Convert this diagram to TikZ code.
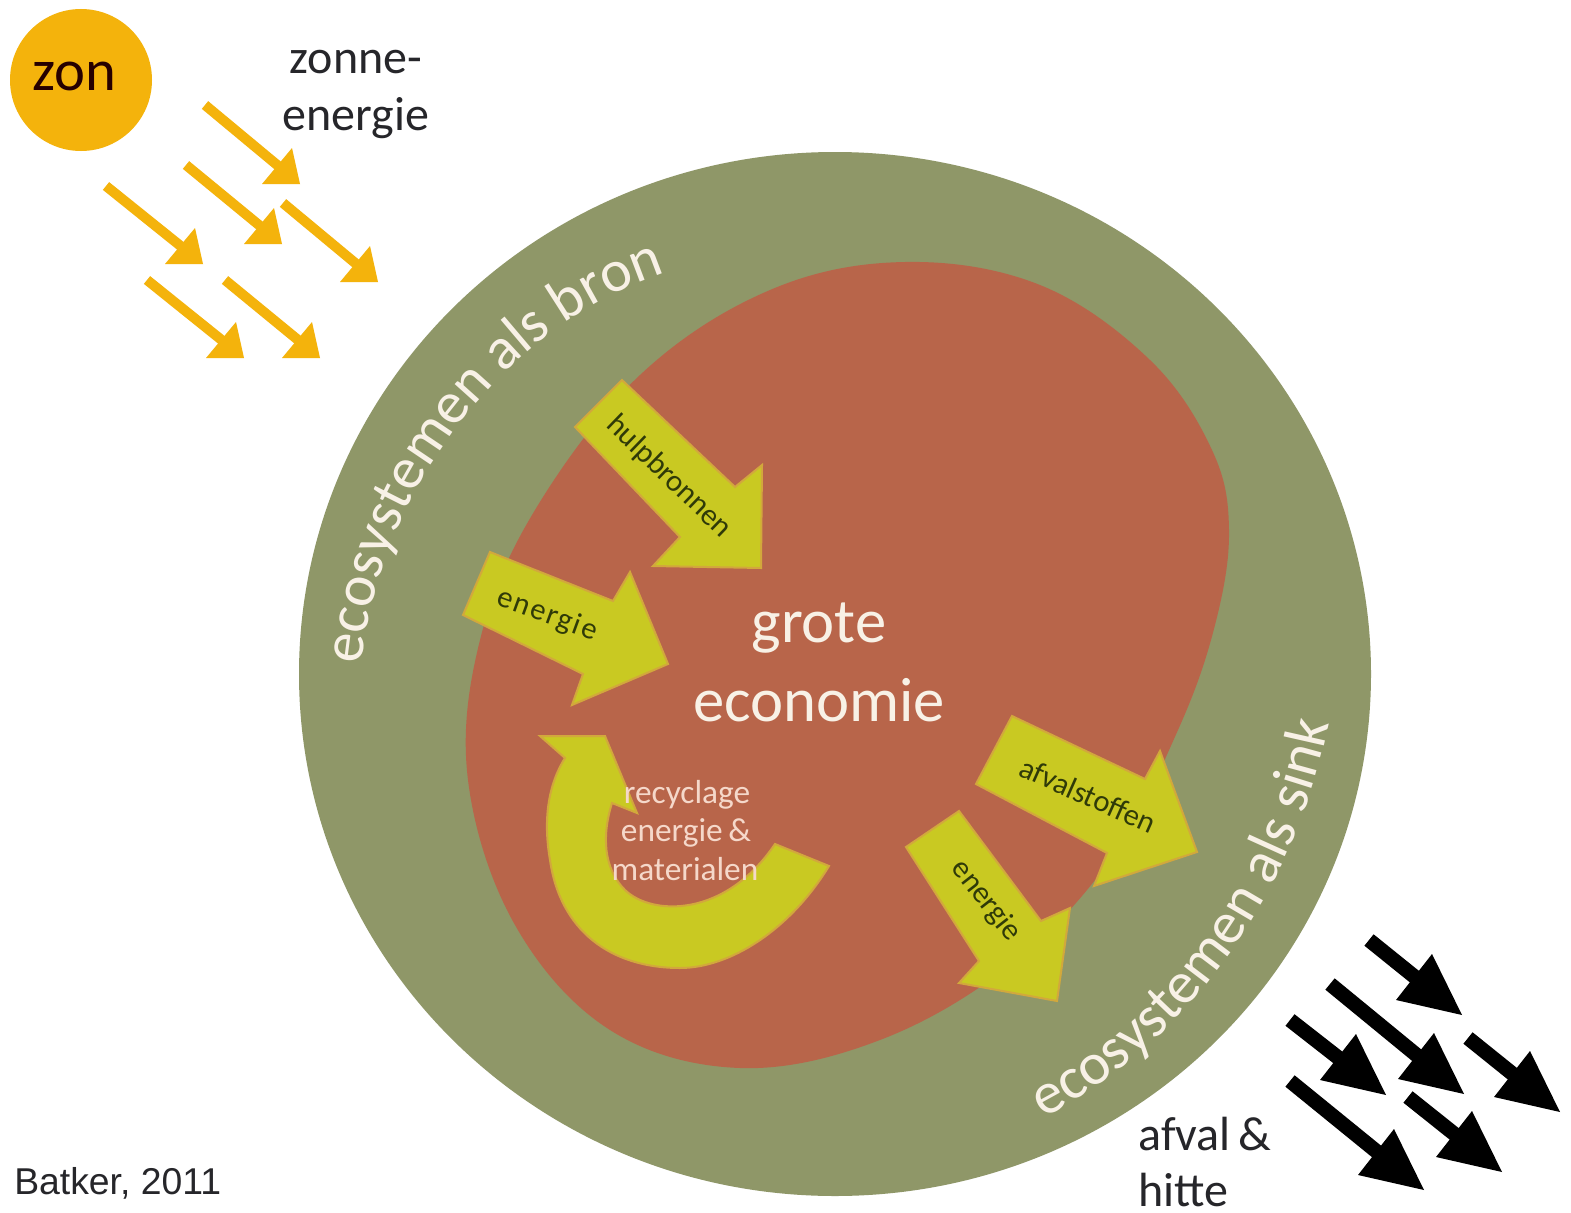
\documentclass[tikz,border=0pt]{standalone}
\usepackage{fontspec}
\setmainfont{Carlito}
\newfontfamily\refont{Liberation Sans}
\usetikzlibrary{decorations.text}
\definecolor{olivering}{HTML}{8F9768}
\definecolor{redblob}{HTML}{B8654A}
\definecolor{limearrow}{HTML}{C9C922}
\definecolor{limeedge}{HTML}{D2A83C}
\definecolor{sunfill}{HTML}{F4B30C}
\definecolor{palewhite}{HTML}{F8F1E6}
\definecolor{pinktext}{HTML}{F5D8CA}
\definecolor{darktext}{HTML}{26262A}
\definecolor{labeltext}{HTML}{2F3A08}
\tikzset{
  x=0.75pt,y=-0.75pt,
  sunray/.style={draw=sunfill,line width=7.5pt,shorten >=14pt},
  heat/.style={draw=black,line width=11pt,shorten >=22pt},
  limeshape/.style={fill=limearrow,draw=limeedge,line width=1.5pt,line join=miter},
  smalllabel/.style={font=\fontsize{23}{25}\selectfont,text=labeltext,inner sep=0pt},
  pinklabel/.style={font=\fontsize{25}{27}\selectfont,text=pinktext,inner sep=0pt},
  biglabel/.style={font=\fontsize{47}{50}\selectfont,text=palewhite,inner sep=0pt},
  blacklabel/.style={font=\fontsize{36}{38}\selectfont,text=darktext,inner sep=0pt},
}
\newcommand{\arcfont}{\fontsize{44.5}{46}\selectfont\color{palewhite}}
\begin{document}
\begin{tikzpicture}
\useasboundingbox (0,0) rectangle (1571,1213);
\fill[white] (0,0) rectangle (1571,1213);

% rings
\fill[olivering] (835,674) ellipse [x radius=536,y radius=522];
\fill[redblob] plot[smooth cycle,tension=0.62] coordinates {
  (905,262) (1040,285) (1150,360) (1212,450) (1229,530) (1215,625) (1178,730)
  (1110,860) (1010,965) (880,1040) (740,1068) (610,1030) (515,925)
  (468,780) (480,640) (535,510) (640,375) (770,290)};

% sun
\node[circle,fill=sunfill,minimum size=106.5pt,inner sep=0pt] (sun) at (81,80) {};
\node[font=\fontsize{44}{46}\selectfont,text=black!85!red,inner sep=0pt] (zonlabel) at (74,76) {zon};
\node[blacklabel] (zonne) at (356,62) {zonne-};
\node[blacklabel] (energiesun) at (356,118) {energie};

% sun rays
\coordinate (s1a) at (205,105); \coordinate (s1b) at (300,184);
\coordinate (s2a) at (186,165); \coordinate (s2b) at (282,244);
\coordinate (s3a) at (106,186); \coordinate (s3b) at (203,264);
\coordinate (s4a) at (283,203); \coordinate (s4b) at (378,282);
\coordinate (s5a) at (147,280); \coordinate (s5b) at (244,358);
\coordinate (s6a) at (225,280); \coordinate (s6b) at (320,358);
\foreach \n in {1,...,6} {
  \draw[sunray] (s\n a) -- (s\n b);
  \fill[sunfill,shift={(s\n b)}] (0,0) -- (-38,0) -- (-8,-36) -- cycle;
}

% lime arrows
\path[limeshape] (575,427) -- (622,380) -- (735,487) -- (762,465) -- (761,568) -- (653,566) -- (680,537) -- cycle;
\path[limeshape] (490,552) -- (463,615) -- (583,674) -- (572,705) -- (668,664) -- (630,572) -- (613,601) -- cycle;
\path[limeshape] (540,736) -- (605,736) -- (637,813) -- (612,803)
   .. controls (602,835) and (603,868) .. (625,890)
   .. controls (652,916) and (725,918) .. (775,844)
   -- (829,866)
   .. controls (790,930) and (730,968) .. (680,968)
   .. controls (610,968) and (560,930) .. (550,860)
   .. controls (543,820) and (548,785) .. (565,758) -- cycle;
\path[limeshape] (1012,716) -- (976,784) -- (1107,853) -- (1094,886) -- (1197,852) -- (1160,751) -- (1145,779) -- cycle;
\path[limeshape] (959,811) -- (906,847) -- (979,961) -- (959,983) -- (1057,1001) -- (1070,908) -- (1041,921) -- cycle;

% labels on lime arrows
\node[smalllabel,rotate=-44] (hulp) at (669,477) {hulpbronnen};
\node[smalllabel,rotate=-20] (en1) at (547,615) {\addfontfeatures{LetterSpace=6}energie};
\node[smalllabel,rotate=-24] (afv) at (1088,795) {afvalstoffen};
\node[smalllabel,rotate=-52] (en2) at (986,901) {energie};

% recycle label
\node[pinklabel] (rec1) at (687,795) {recyclage};
\node[pinklabel] (rec2) at (686,833) {energie\,\&};
\node[pinklabel] (rec3) at (685,869) {materialen};

% main label
\node[biglabel] (grote) at (819,628) {grote};
\node[biglabel] (econ) at (819,700) {economie};

% ring text
\path[decorate,decoration={text along path,text align=center,
   text={|\arcfont|ecosystemen als bron}}]
  (361,680) .. controls (370,505) and (500,320) .. (680,268);
\path[decorate,decoration={text along path,text align=center,
   text={|\arcfont|ecosystemen als sink}}]
  (1022,1128) .. controls (1175,1060) and (1300,900) .. (1333,700);

% heat arrows
\coordinate (b1a) at (1369,940); \coordinate (b1b) at (1462,1015);
\coordinate (b2a) at (1330,984); \coordinate (b2b) at (1464,1094);
\coordinate (b3a) at (1290,1020); \coordinate (b3b) at (1386,1095);
\coordinate (b4a) at (1468,1038); \coordinate (b4b) at (1560,1112);
\coordinate (b5a) at (1408,1097); \coordinate (b5b) at (1502,1172);
\coordinate (b6a) at (1290,1081); \coordinate (b6b) at (1424,1190);
\foreach \n in {1,...,6} {
  \draw[heat] (b\n a) -- (b\n b);
  \fill[black,shift={(b\n b)}] (0,0) -- (-30,-61) -- (-66,-15) -- cycle;
}

\node[blacklabel,anchor=west] (afval) at (1138,1134) {afval\,\&};
\node[blacklabel,anchor=west] (hitte) at (1138,1190) {hitte};
\node[font=\refont\fontsize{28}{30}\selectfont,text=darktext,inner sep=0pt,anchor=west] (source) at (14,1183) {Batker, 2011};
\end{tikzpicture}
\end{document}
